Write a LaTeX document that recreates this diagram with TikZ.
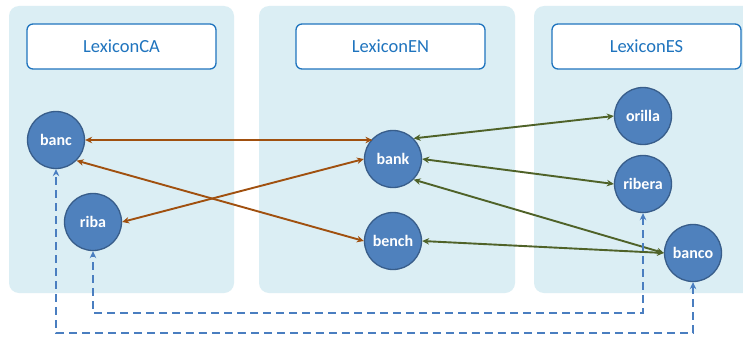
\documentclass[tikz,border=0pt]{standalone}
\usepackage{fontspec}
\setmainfont{Carlito}
\usetikzlibrary{arrows.meta}
\definecolor{panelbg}{HTML}{DBEEF4}
\definecolor{hdrblue}{HTML}{1F74BE}
\definecolor{nodefill}{HTML}{4F81BD}
\definecolor{nodedraw}{HTML}{385D8A}
\definecolor{brownln}{HTML}{A0500F}
\definecolor{greenln}{HTML}{4F6228}
\definecolor{dashblue}{HTML}{4A7EC0}
\tikzset{
  panel/.style={fill=panelbg,draw=none,rounded corners=10pt},
  header/.style={draw=hdrblue,line width=1.3pt,fill=white,rounded corners=6pt,minimum width=189pt,minimum height=45pt,text=hdrblue,font=\fontsize{18.5}{20}\selectfont,anchor=center},
  word/.style={circle,fill=nodefill,draw=nodedraw,line width=1.3pt,minimum size=57pt,inner sep=0pt,text=white,font=\bfseries\fontsize{16}{18}\selectfont},
  brownarr/.style={draw=brownln,line width=1.9pt,{Stealth[length=7pt,width=6.5pt]}-{Stealth[length=7pt,width=6.5pt]}},
  greenarr/.style={draw=greenln,line width=1.9pt,{Stealth[length=7pt,width=6.5pt]}-{Stealth[length=7pt,width=6.5pt]}},
  dasharr/.style={draw=dashblue,line width=1.9pt,dash pattern=on 8pt off 5pt,{Stealth[length=7pt,width=6.5pt]}-{Stealth[length=7pt,width=6.5pt]}}
}
\begin{document}
\begin{tikzpicture}[x=1pt,y=-1pt]
\useasboundingbox (0,0) rectangle (743,337);
\fill[white] (0,0) rectangle (743,337);
\begin{scope}
\clip (0,0) rectangle (743,337);
\path[panel] (9,6) rectangle (234,293);
\path[panel] (259,6) rectangle (515,293);
\path[panel] (534,6) rectangle (760,293);
\end{scope}
\node[header] (hca) at (121.5,46.5) {LexiconCA};
\node[header] (hen) at (390.5,46.5) {LexiconEN};
\node[header] (hes) at (646.5,46.5) {LexiconES};

\node[word] (banc) at (56,140) {banc};
\node[word] (riba) at (93,222) {riba};
\node[word] (bank) at (393,159) {bank};
\node[word] (bench) at (393,241) {bench};
\node[word] (orilla) at (643,116) {orilla};
\node[word] (ribera) at (643,184) {ribera};
\node[word] (banco) at (693,253) {banco};

\draw[brownarr] (banc.east) -- (bank.north west |- banc.east);
\draw[brownarr] (banc.south east) -- (bench.west);
\draw[brownarr] (riba.east) -- (bank.west);

\draw[greenarr] (bank.north east) -- (orilla.west);
\draw[greenarr] (bank.east) -- (ribera.west);
\draw[greenarr] (bank.south east) -- (banco.west);
\draw[greenarr] (bench.east) -- (banco.west);

\coordinate (d1) at (643,313);
\coordinate (d2) at (93,313);
\coordinate (d3) at (693,333);
\coordinate (d4) at (56,333);
\draw[dasharr] (ribera.south) -- (d1) -- (d2) -- (riba.south);
\draw[dasharr] (banco.south) -- (d3) -- (d4) -- (banc.south);
\end{tikzpicture}
\end{document}
